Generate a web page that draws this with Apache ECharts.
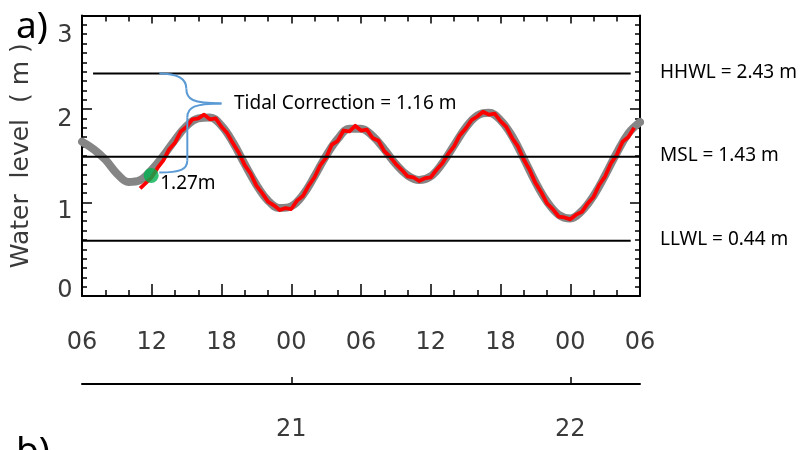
<!DOCTYPE html>
<html><head><meta charset="utf-8">
<script src="https://cdn.jsdelivr.net/npm/echarts@6/dist/echarts.min.js"></script>
<style>html,body{margin:0;padding:0;background:#fff}#c{width:801px;height:450px}</style>
</head><body><div id="c"></div>
<script>
// x axis: hours after 06:00 on day 20
const hourTickLabels = ['06','12','18','00','06','12','18','00','06'];
const dayTickHours = [18, 42];
const dayTickLabels = ['21','22'];
const yTickLabels = ['0','1','2','3'];

// predicted tide (grey), one value per hour from t=0 to t=48
const predicted = [1.65,1.57,1.46,1.31,1.22,1.24,1.35,1.50,1.67,1.82,1.90,1.91,1.82,1.64,1.41,1.19,1.02,0.94,0.96,1.08,1.28,1.50,1.68,1.79,1.79,1.71,1.57,1.41,1.29,1.24,1.28,1.42,1.61,1.80,1.93,1.96,1.88,1.71,1.47,1.22,1.01,0.87,0.83,0.91,1.07,1.29,1.53,1.74,1.86];

// observed water level (red), every half hour from t=5
const observedStart = 5, observedStep = 0.5;
const observed = [1.15,1.21,1.27,1.37,1.45,1.57,1.64,1.76,1.81,1.89,1.90,1.94,1.89,1.90,1.81,1.74,1.63,1.53,1.40,1.31,1.18,1.10,1.01,0.97,0.92,0.94,0.93,1.02,1.07,1.18,1.27,1.40,1.48,1.62,1.66,1.77,1.76,1.82,1.77,1.78,1.69,1.66,1.55,1.49,1.41,1.35,1.28,1.27,1.23,1.26,1.27,1.35,1.42,1.52,1.60,1.72,1.79,1.88,1.92,1.97,1.94,1.95,1.87,1.81,1.69,1.60,1.46,1.35,1.21,1.11,0.99,0.93,0.85,0.84,0.82,0.87,0.90,0.99,1.06,1.19,1.28,1.42,1.51,1.65,1.70,1.80];

const startPoint = [[5.95, 1.29]];
const startLabel = '1.27m';

const levelNames = ['HHWL = 2.43 m','MSL = 1.43 m','LLWL = 0.44 m'];
const levelValues = [2.38, 1.49, 0.59];
const levelFrom = [0.95, 0, 0];
const levelTo = [47.2, 48, 47.2];

const correctionLabel = 'Tidal Correction = 1.16 m';

(function(){
const chart = echarts.init(document.getElementById('c'), null, {renderer:'canvas'});
const axisFont = 'DejaVu Sans';
const axisColor = '#3a3a3a';
const yOffsets = {0:-5, 1:9, 2:11, 3:20};
const rich = {};
Object.keys(yOffsets).forEach(k => {
  const o = yOffsets[k];
  rich['y'+k] = {fontFamily:axisFont, fontSize:24, color:axisColor,
    padding: o >= 0 ? [2*o,0,0,0] : [0,0,-2*o,0]};
});

const levelSeries = levelValues.map((v,i) => ({
  type:'line', xAxisIndex:0, yAxisIndex:0, symbol:'none', silent:true, z:5,
  lineStyle:{color:'#000', width:2},
  data:[[levelFrom[i], v],[levelTo[i], v]]
}));

chart.setOption({
  animation:false,
  backgroundColor:'#fff',
  grid:{left:82, top:15.5, right:161, bottom:154, containLabel:false},
  xAxis:[
    {type:'value', min:0, max:48, interval:6, position:'bottom',
     axisLine:{show:true, onZero:false, lineStyle:{color:'#000', width:2}},
     axisTick:{show:true, inside:true, length:12, lineStyle:{color:'#000', width:1.5}},
     minorTick:{show:true, splitNumber:3, length:6, lineStyle:{color:'#000', width:1.5}},
     splitLine:{show:false},
     axisLabel:{margin:35, fontFamily:axisFont, fontSize:24, color:axisColor,
       formatter:(v)=>hourTickLabels[Math.round(v/6)]}},
    {type:'value', min:0, max:48, interval:6, position:'top',
     axisLine:{show:true, onZero:false, lineStyle:{color:'#000', width:2}},
     axisTick:{show:true, inside:true, length:8, lineStyle:{color:'#000', width:1.5}},
     minorTick:{show:true, splitNumber:3, length:6, lineStyle:{color:'#000', width:1.5}},
     splitLine:{show:false}, axisLabel:{show:false}},
    {type:'value', min:0, max:48, position:'bottom', offset:88,
     axisLine:{show:true, onZero:false, lineStyle:{color:'#000', width:2}},
     axisTick:{show:true, inside:true, length:7, customValues:dayTickHours, lineStyle:{color:'#000', width:1.5}},
     splitLine:{show:false},
     axisLabel:{margin:34, fontFamily:axisFont, fontSize:24, color:axisColor, customValues:dayTickHours,
       formatter:(v)=>dayTickLabels[dayTickHours.indexOf(v)]}}
  ],
  yAxis:[
    {type:'value', min:0, max:3, interval:1, position:'left',
     name:'Water  level  ( m )', nameLocation:'middle', nameGap:48,
     nameTextStyle:{fontFamily:axisFont, fontSize:25, color:axisColor},
     axisLine:{show:true, onZero:false, lineStyle:{color:'#000', width:2}},
     axisTick:{show:true, inside:true, length:10, lineStyle:{color:'#000', width:1.5}},
     minorTick:{show:true, splitNumber:10, length:5, lineStyle:{color:'#000', width:1.5}},
     splitLine:{show:false},
     axisLabel:{margin:9.5, formatter:(v)=>'{y'+v+'|'+yTickLabels[v]+'}', rich:rich}},
    {type:'value', min:0, max:3, interval:1, position:'right',
     axisLine:{show:true, onZero:false, lineStyle:{color:'#000', width:2}},
     axisTick:{show:true, inside:true, length:10, lineStyle:{color:'#000', width:1.5}},
     minorTick:{show:true, splitNumber:10, length:5, lineStyle:{color:'#000', width:1.5}},
     splitLine:{show:false}, axisLabel:{show:false}}
  ],
  series:[
    {type:'line', xAxisIndex:0, yAxisIndex:0, symbol:'none', smooth:0.4, z:2,
     lineStyle:{color:'#858585', width:8, cap:'round', join:'round'},
     data:predicted.map((v,i)=>[i,v])},
    {type:'line', xAxisIndex:0, yAxisIndex:0, symbol:'none', smooth:false, z:3,
     lineStyle:{color:'#ff0000', width:3.8, join:'round'},
     data:observed.map((v,i)=>[observedStart+i*observedStep, v])},
    ...levelSeries,
    {type:'scatter', xAxisIndex:0, yAxisIndex:0, symbolSize:15, z:6,
     itemStyle:{color:'#00b050'}, data:startPoint}
  ]
});

const px = (x,y)=>chart.convertToPixel({gridIndex:0},[x,y]);
const bTop = px(6.65, levelValues[0]);
const bBot = px(6.65, 1.32);
const bTip = px(12.0, 2.06);
const sx = bTop[0] + 27;
const braceStyle = {fill:null, stroke:'#5b9bd5', lineWidth:2};
const bz = (x1,y1,c1x,c1y,c2x,c2y,x2,y2)=>({type:'bezierCurve', z:10, silent:true,
  shape:{x1:x1,y1:y1,cpx1:c1x,cpy1:c1y,cpx2:c2x,cpy2:c2y,x2:x2,y2:y2}, style:braceStyle});
const ln = (x1,y1,x2,y2)=>({type:'line', z:10, silent:true, shape:{x1:x1,y1:y1,x2:x2,y2:y2}, style:braceStyle});
const noteFont = '19px "Noto Sans"';

const graphics = [
  bz(bTop[0],bTop[1], sx-8,bTop[1], sx,bTop[1]+5, sx,bTop[1]+15),
  bz(sx,bTop[1]+15, sx,bTip[1]-4, sx+6,bTip[1], bTip[0],bTip[1]),
  bz(bTip[0],bTip[1], sx+8,bTip[1], sx+1,bTip[1]+4, sx+1,bTip[1]+14),
  ln(sx+1,bTip[1]+14, sx+1,bBot[1]-12),
  bz(sx+1,bBot[1]-12, sx+1,bBot[1]-3, sx-6,bBot[1], bTop[0],bBot[1]),
  {type:'text', x:234, y:bTip[1], z:10, style:{text:correctionLabel, font:noteFont, fill:'#000', textVerticalAlign:'middle'}},
  {type:'text', x:px(startPoint[0][0],0)[0]+9, y:px(0,startPoint[0][1])[1]+8, z:10, style:{text:startLabel, font:noteFont, fill:'#000', textVerticalAlign:'middle'}},
  {type:'text', x:16, y:27, z:10, style:{text:'a)', font:'37px "Noto Sans"', fill:'#000', textVerticalAlign:'middle'}},
  {type:'text', x:16, y:452, z:10, style:{text:'b)', font:'37px "Noto Sans"', fill:'#000', textVerticalAlign:'middle'}}
];
levelNames.forEach((n,i)=>{
  graphics.push({type:'text', x:660, y:px(0,levelValues[i])[1]-1, z:10, style:{text:n, font:noteFont, fill:'#000', textVerticalAlign:'middle'}});
});
chart.setOption({graphic:graphics});
})();
</script></body></html>
